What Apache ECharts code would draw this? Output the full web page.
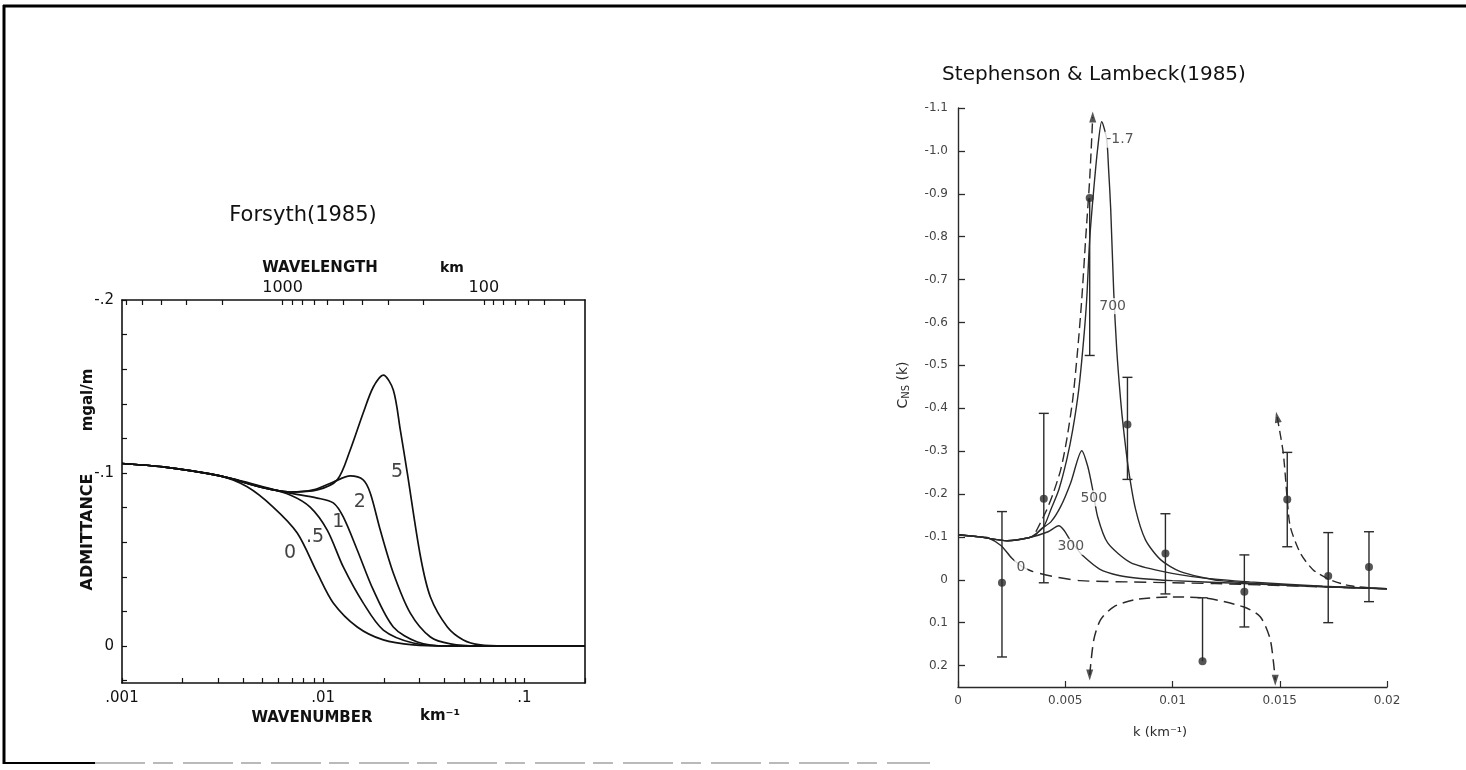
<!DOCTYPE html>
<html>
<head>
<meta charset="utf-8">
<script src="https://cdn.jsdelivr.net/npm/echarts@6/dist/echarts.min.js"></script>
<style>html,body{margin:0;padding:0;background:#fff}#c{width:1466px;height:770px}</style>
</head>
<body>
<div id="c"></div>
<script>
// ================= LEFT PANEL : Forsyth (1985) =================
// wavenumber axis (km^-1), log scale
const forsythKLabels = [0.001, 0.01, 0.1];
const forsythKTicks = [0.001,0.002,0.003,0.004,0.005,0.006,0.007,0.008,0.009,
                       0.01,0.02,0.03,0.04,0.05,0.06,0.07,0.08,0.09,0.1,0.2];
// wavelength axis (km) on top, k = 2*pi / wavelength
const wavelengthTicks = [6000,5000,4000,3000,2000,1000,900,800,700,600,500,400,300,200,
                         100,90,80,70,60,50,40];
const wavelengthLabels = [1000, 100];
// admittance axis (mgal/m)
const admittanceLabels = [-0.2, -0.1, 0];
const admittanceTicks = [-0.2,-0.18,-0.16,-0.14,-0.12,-0.1,-0.08,-0.06,-0.04,-0.02,0,0.02];

const forsythNames = ['0', '.5', '1', '2', '5'];
const forsyth0 = [[0.001,-0.1055],[0.0016,-0.1035],[0.00307,-0.0983],[0.00419,-0.092],[0.00564,-0.0803],
  [0.00743,-0.0653],[0.00934,-0.0422],[0.01122,-0.0249],[0.01476,-0.011],[0.0199,-0.0035],
  [0.028,-0.0006],[0.0414,0],[0.2,0]];
const forsyth05 = [[0.001,-0.1055],[0.0016,-0.1035],[0.00307,-0.0983],[0.00503,-0.092],[0.00685,-0.0873],
  [0.00861,-0.0803],[0.01047,-0.067],[0.01258,-0.0457],[0.0158,-0.0249],[0.0199,-0.0092],
  [0.028,-0.0017],[0.0414,0],[0.2,0]];
const forsyth1 = [[0.001,-0.1055],[0.0016,-0.1035],[0.00307,-0.0983],[0.00503,-0.0915],[0.00685,-0.0884],
  [0.00934,-0.0855],[0.01122,-0.0827],[0.01258,-0.0746],[0.01476,-0.0555],[0.01774,-0.0324],
  [0.0223,-0.011],[0.02936,-0.0023],[0.0414,0],[0.2,0]];
const forsyth2 = [[0.001,-0.1055],[0.0016,-0.1035],[0.00307,-0.0983],[0.00503,-0.0915],[0.00685,-0.089],
  [0.00892,-0.0902],[0.01122,-0.0948],[0.01362,-0.0983],[0.0158,-0.096],[0.01713,-0.0884],
  [0.01921,-0.067],[0.0223,-0.0422],[0.02709,-0.019],[0.0341,-0.0052],[0.0429,-0.0012],
  [0.0583,0],[0.2,0]];
const forsyth5 = [[0.001,-0.1055],[0.0016,-0.1035],[0.00307,-0.0983],[0.00503,-0.0915],[0.00685,-0.089],
  [0.00934,-0.0902],[0.01174,-0.096],[0.01362,-0.1133],[0.0158,-0.1347],[0.01774,-0.1497],
  [0.01989,-0.1566],[0.0223,-0.148],[0.02416,-0.1249],[0.02617,-0.1],[0.0304,-0.052],
  [0.0341,-0.0283],[0.0414,-0.011],[0.0497,-0.0035],[0.0604,-0.0006],[0.08,0],[0.2,0]];
const forsythLabelPos = [[0.00685,-0.0538],[0.0091,-0.063],[0.0119,-0.0717],[0.0152,-0.083],[0.0233,-0.1006]];

// ================= RIGHT PANEL : Stephenson & Lambeck (1985) =================
const slXTicks = [0, 0.005, 0.01, 0.015, 0.02];
const slYTicks = [-1.1,-1.0,-0.9,-0.8,-0.7,-0.6,-0.5,-0.4,-0.3,-0.2,-0.1,0,0.1,0.2];

const slCurve0 = [[0,-0.105],[0.001,-0.1],[0.0014,-0.098],[0.002,-0.08],[0.0025,-0.051],[0.003,-0.03],
  [0.0035,-0.019],[0.0045,-0.007],[0.0057,0.002],[0.008,0.005],[0.012,0.009],[0.016,0.015],[0.02,0.021]];
const slCurve300 = [[0,-0.105],[0.001,-0.1],[0.0023,-0.091],[0.0033,-0.098],[0.0042,-0.112],[0.0047,-0.126],
  [0.00495,-0.115],[0.0052,-0.095],[0.0055,-0.075],[0.0058,-0.057],[0.0066,-0.025],[0.0075,-0.01],
  [0.0085,-0.003],[0.01,0.002],[0.013,0.008],[0.016,0.014],[0.02,0.021]];
const slCurve500 = [[0,-0.105],[0.001,-0.1],[0.0023,-0.091],[0.0033,-0.098],[0.0036,-0.104],[0.00386,-0.118],
  [0.00433,-0.135],[0.00479,-0.171],[0.00526,-0.227],[0.00577,-0.301],[0.00605,-0.264],[0.00628,-0.21],
  [0.00651,-0.147],[0.00698,-0.086],[0.00805,-0.04],[0.00958,-0.019],[0.0113,-0.005],[0.0136,0.005],
  [0.017,0.015],[0.02,0.021]];
const slCurve700 = [[0,-0.105],[0.001,-0.1],[0.0023,-0.091],[0.0033,-0.098],[0.0036,-0.106],[0.004,-0.124],
  [0.00433,-0.164],[0.0047,-0.21],[0.00507,-0.28],[0.00535,-0.35],[0.00563,-0.444],[0.00586,-0.561],
  [0.006,-0.654],[0.00614,-0.794],[0.00633,-0.911],[0.00651,-1.005],[0.0067,-1.068],[0.00693,-1.028],
  [0.00702,-0.958],[0.00712,-0.864],[0.00726,-0.671],[0.0074,-0.537],[0.00758,-0.42],[0.00772,-0.35],
  [0.00795,-0.257],[0.00828,-0.164],[0.00874,-0.093],[0.00944,-0.047],[0.01037,-0.019],[0.01223,0.002],
  [0.016,0.014],[0.02,0.021]];
const slDashA = [[0.00363,-0.112],[0.0041,-0.159],[0.00442,-0.199],[0.00479,-0.257],[0.00507,-0.327],
  [0.00535,-0.421],[0.00558,-0.537],[0.00577,-0.654],[0.00595,-0.794],[0.00614,-0.935],[0.00628,-1.079]];
const slDashB = [[0.01488,-0.379],[0.01516,-0.297],[0.01535,-0.187],[0.01549,-0.124],[0.01595,-0.063],
  [0.01656,-0.023],[0.01735,0],[0.01828,0.014],[0.0195,0.02],[0.02,0.021]];
const slDashC = [[0.00614,0.222],[0.00633,0.14],[0.00665,0.093],[0.00726,0.063],[0.00819,0.047],
  [0.00977,0.040],[0.01144,0.042],[0.0133,0.063],[0.01409,0.086],[0.01456,0.14],[0.01479,0.234]];

// observations with error bars
const obsK      = [0.00205, 0.0040, 0.00614, 0.0079, 0.00967, 0.0114, 0.01335, 0.01535, 0.01726, 0.01916];
const obsValue  = [0.007, -0.189, -0.89, -0.362, -0.061, 0.19, 0.028, -0.187, -0.009, -0.03];
const obsTop    = [-0.159, -0.388, -0.89, -0.472, -0.154, 0.042, -0.058, -0.297, -0.11, -0.112];
const obsBottom = [0.18, 0.007, -0.523, -0.234, 0.033, 0.19, 0.11, -0.077, 0.10, 0.051];

const slLabelNames = ['0', '300', '500', '700', '-1.7'];
const slLabelPos = [[0.00293,-0.03],[0.00526,-0.077],[0.00633,-0.19],[0.00721,-0.638],[0.00755,-1.026]];

// ================= BUILD =================
const TWO_PI = 2 * Math.PI;
const INK = '#111';
const INK2 = '#2a2a2a';
const FONT = '"DejaVu Sans", "Liberation Sans", sans-serif';

function fmtShort(v) {
  const r = Number(Number(v).toPrecision(4));
  if (r === 0) return '0';
  return String(r).replace(/^(-?)0\./, '$1.');
}

const leftLine = (data, name) => ({
  type: 'line', name, xAxisIndex: 0, yAxisIndex: 0, data,
  symbol: 'none', smooth: 0.3, silent: true,
  lineStyle: { color: INK, width: 1.7 }, z: 3
});
const rightLine = (data, type, width) => ({
  type: 'line', xAxisIndex: 2, yAxisIndex: 2, data,
  symbol: 'none', smooth: 0.25, silent: true,
  lineStyle: { color: INK2, width: width || 1.4, type: type || 'solid' }, z: 3
});

const forsythCurves = [forsyth0, forsyth05, forsyth1, forsyth2, forsyth5];
const series = [];
forsythCurves.forEach((c, i) => series.push(leftLine(c, forsythNames[i])));
series.push({
  type: 'scatter', xAxisIndex: 0, yAxisIndex: 0, symbolSize: 0, silent: true, z: 5,
  data: forsythLabelPos.map((p, i) => ({ name: forsythNames[i], value: p })),
  label: { show: true, position: 'inside', formatter: p => p.name,
           fontSize: 19, fontFamily: FONT, color: INK }
});

// right panel curves
series.push(rightLine(slCurve0.slice(0, 6)));
series.push(rightLine(slCurve0.slice(5), [12, 7]));
series.push(rightLine(slCurve300));
series.push(rightLine(slCurve500));
series.push(rightLine(slCurve700));
series.push(rightLine(slDashA, [10, 5], 1.4));
series.push(rightLine(slDashB, [9, 5], 1.4));
series.push(rightLine(slDashC, [11, 6], 1.5));

// error bars
series.push({
  type: 'custom', xAxisIndex: 2, yAxisIndex: 2, silent: true, z: 4,
  data: obsK.map((k, i) => [k, obsTop[i], obsBottom[i], obsValue[i]]),
  renderItem(params, api) {
    const k = api.value(0), top = api.value(1), bot = api.value(2), val = api.value(3);
    const pt = api.coord([k, top]), pb = api.coord([k, bot]);
    const st = { stroke: INK2, lineWidth: 1.4 };
    const children = [{ type: 'line', shape: { x1: pt[0], y1: pt[1], x2: pb[0], y2: pb[1] }, style: st }];
    if (Math.abs(top - val) > 1e-9) children.push({ type: 'line', shape: { x1: pt[0] - 5, y1: pt[1], x2: pt[0] + 5, y2: pt[1] }, style: st });
    if (Math.abs(bot - val) > 1e-9) children.push({ type: 'line', shape: { x1: pb[0] - 5, y1: pb[1], x2: pb[0] + 5, y2: pb[1] }, style: st });
    return { type: 'group', children };
  }
});
// observation points
series.push({
  type: 'scatter', xAxisIndex: 2, yAxisIndex: 2, silent: true, z: 6,
  symbol: 'circle', symbolSize: 8, itemStyle: { color: INK2 },
  data: obsK.map((k, i) => [k, obsValue[i]])
});
// arrow heads at ends of the dashed curves
series.push({
  type: 'scatter', xAxisIndex: 2, yAxisIndex: 2, silent: true, z: 6,
  symbol: 'triangle', symbolSize: [7, 11], itemStyle: { color: INK2 },
  data: [
    { value: slDashA[slDashA.length - 1], symbolRotate: 0 },
    { value: slDashB[0], symbolRotate: 12 },
    { value: slDashC[0], symbolRotate: 180 },
    { value: slDashC[slDashC.length - 1], symbolRotate: 180 }
  ]
});
// curve labels
series.push({
  type: 'scatter', xAxisIndex: 2, yAxisIndex: 2, symbolSize: 0, silent: true, z: 7,
  data: slLabelPos.map((p, i) => ({ name: slLabelNames[i], value: p })),
  label: { show: true, position: 'inside', formatter: p => p.name,
           fontSize: 14, fontFamily: FONT, color: INK2,
           backgroundColor: '#fff', padding: [1, 2] }
});

const axisLine = { onZero: false, lineStyle: { color: INK, width: 1.6 } };

const option = {
  animation: false,
  backgroundColor: '#fff',
  grid: [
    { left: 122, top: 300, width: 463, height: 383, outerBoundsMode: 'none' },
    { left: 958, top: 108, width: 429, height: 579, outerBoundsMode: 'none' }
  ],
  xAxis: [
    { gridIndex: 0, type: 'log', logBase: 10, min: 0.001, max: 0.2, position: 'bottom',
      axisLine, splitLine: { show: false },
      axisTick: { inside: true, length: 5, customValues: forsythKTicks, lineStyle: { color: INK, width: 1.2 } },
      axisLabel: { customValues: forsythKLabels, formatter: fmtShort, margin: 8,
                   fontSize: 15, fontFamily: FONT, color: INK } },
    { gridIndex: 0, type: 'log', logBase: 10, min: 0.001, max: 0.2, position: 'top',
      axisLine, splitLine: { show: false },
      axisTick: { inside: true, length: 5, customValues: wavelengthTicks.map(l => TWO_PI / l), lineStyle: { color: INK, width: 1.2 } },
      axisLabel: { customValues: wavelengthLabels.map(l => TWO_PI / l),
                   formatter: v => String(Math.round(TWO_PI / v)), margin: 4,
                   fontSize: 16, fontFamily: FONT, color: INK } },
    { gridIndex: 1, type: 'value', min: 0, max: 0.02, position: 'bottom',
      axisLine: { onZero: false, lineStyle: { color: INK2, width: 1.4 } }, splitLine: { show: false },
      axisTick: { inside: true, length: 6, customValues: slXTicks, lineStyle: { color: INK2, width: 1.2 } },
      axisLabel: { customValues: slXTicks, formatter: v => v === 0 ? '0' : String(Number(v.toFixed(4))),
                   margin: 8, fontSize: 12, fontFamily: FONT, color: '#444' } }
  ],
  yAxis: [
    { gridIndex: 0, type: 'value', inverse: true, min: -0.2, max: 0.0214, position: 'left',
      axisLine, splitLine: { show: false },
      axisTick: { inside: true, length: 5, customValues: admittanceTicks, lineStyle: { color: INK, width: 1.2 } },
      axisLabel: { customValues: admittanceLabels, formatter: fmtShort, margin: 8,
                   fontSize: 15, fontFamily: FONT, color: INK } },
    { gridIndex: 0, type: 'value', inverse: true, min: -0.2, max: 0.0214, position: 'right',
      axisLine, splitLine: { show: false }, axisTick: { show: false }, axisLabel: { show: false } },
    { gridIndex: 1, type: 'value', inverse: true, min: -1.1, max: 0.25, position: 'left',
      axisLine: { onZero: false, lineStyle: { color: INK2, width: 1.4 } }, splitLine: { show: false },
      axisTick: { inside: true, length: 7, customValues: slYTicks, lineStyle: { color: INK2, width: 1.3 } },
      axisLabel: { customValues: slYTicks,
                   formatter: v => { const r = Math.round(v * 10) / 10; return r === 0 ? '0' : r.toFixed(1); },
                   margin: 10, fontSize: 12, fontFamily: FONT, color: '#444' } }
  ],
  graphic: [
    // frame
    { type: 'line', silent: true, shape: { x1: 3, y1: 6, x2: 1466, y2: 6 }, style: { stroke: '#000', lineWidth: 3 } },
    { type: 'line', silent: true, shape: { x1: 4, y1: 5, x2: 4, y2: 764 }, style: { stroke: '#000', lineWidth: 3 } },
    { type: 'line', silent: true, shape: { x1: 3, y1: 763, x2: 95, y2: 763 }, style: { stroke: '#000', lineWidth: 2 } },
    { type: 'line', silent: true, shape: { x1: 95, y1: 763, x2: 930, y2: 763 }, style: { stroke: '#777', lineWidth: 1.2, lineDash: [50, 8, 20, 10] } },
    // left texts
    { type: 'text', silent: true, x: 303, y: 216, style: { text: 'Forsyth(1985)', font: '21px ' + FONT, fill: INK, align: 'center', verticalAlign: 'middle', textAlign: 'center', textVerticalAlign: 'middle' } },
    { type: 'text', silent: true, x: 320, y: 268, style: { text: 'WAVELENGTH', font: 'bold 15px ' + FONT, fill: INK, align: 'center', verticalAlign: 'middle', textAlign: 'center', textVerticalAlign: 'middle' } },
    { type: 'text', silent: true, x: 452, y: 268, style: { text: 'km', font: 'bold 14px ' + FONT, fill: INK, align: 'center', verticalAlign: 'middle', textAlign: 'center', textVerticalAlign: 'middle' } },
    { type: 'text', silent: true, x: 88, y: 532, rotation: Math.PI / 2, style: { text: 'ADMITTANCE', font: 'bold 16px ' + FONT, fill: INK, align: 'center', verticalAlign: 'middle', textAlign: 'center', textVerticalAlign: 'middle' } },
    { type: 'text', silent: true, x: 88, y: 400, rotation: Math.PI / 2, style: { text: 'mgal/m', font: 'bold 15px ' + FONT, fill: INK, align: 'center', verticalAlign: 'middle', textAlign: 'center', textVerticalAlign: 'middle' } },
    { type: 'text', silent: true, x: 312, y: 718, style: { text: 'WAVENUMBER', font: 'bold 15px ' + FONT, fill: INK, align: 'center', verticalAlign: 'middle', textAlign: 'center', textVerticalAlign: 'middle' } },
    { type: 'text', silent: true, x: 440, y: 716, style: { text: 'km⁻¹', font: 'bold 15px ' + FONT, fill: INK, align: 'center', verticalAlign: 'middle', textAlign: 'center', textVerticalAlign: 'middle' } },
    // right texts
    { type: 'text', silent: true, x: 1094, y: 75, style: { text: 'Stephenson & Lambeck(1985)', font: '20px ' + FONT, fill: INK, align: 'center', verticalAlign: 'middle', textAlign: 'center', textVerticalAlign: 'middle' } },
    { type: 'text', silent: true, x: 903, y: 385, rotation: Math.PI / 2,
      style: { text: '{c|C}{s|NS}{c| (k)}', rich: { c: { fontSize: 14, fontFamily: FONT, fill: INK2, color: INK2 }, s: { fontSize: 10, fontFamily: FONT, fill: INK2, color: INK2, padding: [6, 0, 0, 0] } },
               align: 'center', verticalAlign: 'middle', textAlign: 'center', textVerticalAlign: 'middle' } },
    { type: 'text', silent: true, x: 1160, y: 733, style: { text: 'k (km⁻¹)', font: '13px ' + FONT, fill: INK2, align: 'center', verticalAlign: 'middle', textAlign: 'center', textVerticalAlign: 'middle' } }
  ],
  series
};

const chart = echarts.init(document.getElementById('c'));
chart.setOption(option);
</script>
</body>
</html>
